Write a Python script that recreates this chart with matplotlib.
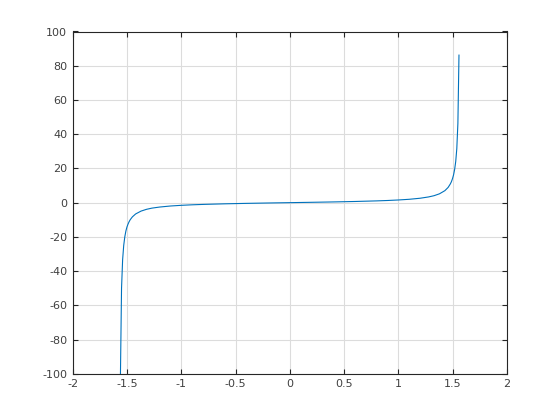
import matplotlib
matplotlib.use("Agg")
import matplotlib.pyplot as plt

x_vals = [-1.5708, -1.5608, -1.5508, -1.5408, -1.5308, -1.5208, -1.5108, -1.5008,
          -1.4908, -1.4808, -1.4708, -1.4508, -1.4208, -1.3708, -1.3208, -1.2708,
          -1.2, -1.1, -1.0, -0.9, -0.8, -0.6, -0.4, -0.2, 0.0, 0.2, 0.4, 0.6, 0.8,
          0.9, 1.0, 1.1, 1.2, 1.2792, 1.3292, 1.3792, 1.4292, 1.4592, 1.4792,
          1.4892, 1.4992, 1.5092, 1.5192, 1.5292, 1.5392, 1.5492, 1.5592]
y_vals = [-10000.0, -100.0, -50.0, -33.3, -25.0, -20.0, -16.6, -14.2,
          -12.5, -11.1, -9.97, -8.3, -6.6, -4.93, -3.9, -3.2,
          -2.57, -1.96, -1.56, -1.26, -1.03, -0.68, -0.42, -0.2, 0.0, 0.2, 0.42, 0.68, 1.03,
          1.26, 1.56, 1.96, 2.57, 3.34, 4.06, 5.16, 7.0, 8.9, 10.9,
          12.2, 13.95, 16.2, 19.4, 24.0, 31.6, 46.3, 86.2]

x_ticks = [-2, -1.5, -1, -0.5, 0, 0.5, 1, 1.5, 2]
x_labels = ["-2", "-1.5", "-1", "-0.5", "0", "0.5", "1", "1.5", "2"]
y_ticks = [-100, -80, -60, -40, -20, 0, 20, 40, 60, 80, 100]
y_labels = ["-100", "-80", "-60", "-40", "-20", "0", "20", "40", "60", "80", "100"]

plt.rcParams['font.family'] = ['DejaVu Sans']
fig = plt.figure(figsize=(5.6, 4.2), dpi=100)
ax = fig.add_axes([0.13, 0.11, 0.775, 0.815])
ax.plot(x_vals, y_vals, color='#0072BD', linewidth=0.8)
ax.set_xlim(-2, 2)
ax.set_ylim(-100, 100)
ax.set_xticks(x_ticks)
ax.set_xticklabels(x_labels)
ax.set_yticks(y_ticks)
ax.set_yticklabels(y_labels)
ax.grid(True, color='#dcdcdc', linewidth=0.8)
ax.set_axisbelow(True)
ax.tick_params(direction='in', length=3.6, width=0.8, top=True, right=True,
               labelsize=8, color='#262626', labelcolor='#404040', pad=4)
for s in ax.spines.values():
    s.set_color('#262626')
    s.set_linewidth(0.8)
fig.savefig('out.png', dpi=100)
